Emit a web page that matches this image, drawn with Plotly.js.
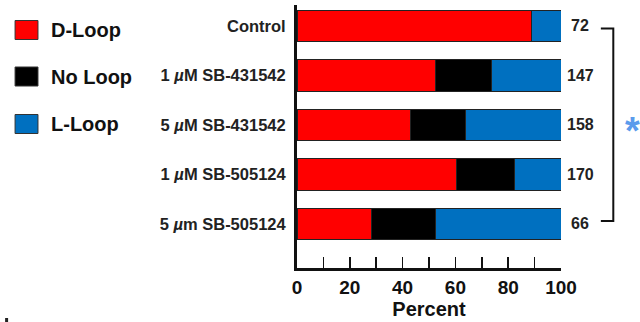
<!DOCTYPE html>
<html>
<head>
<meta charset="utf-8">
<script src="https://cdn.plot.ly/plotly-3.0.1.min.js"></script>
<style>html,body{margin:0;padding:0;background:#fff;}#chart{width:640px;height:322px;}</style>
</head>
<body>
<div id="chart"></div>
<script>
var categories = ["Control", "1 <i>µ</i>M SB-431542", "5 <i>µ</i>M SB-431542", "1 <i>µ</i>M SB-505124", "5 <i>µ</i>m SB-505124"];
var dLoop = [89, 52.5, 43, 60.6, 28.4];
var noLoop = [0, 21.1, 21, 21.8, 24.2];
var lLoop = [11, 26.4, 36, 17.6, 47.4];
var counts = ["72", "147", "158", "170", "66"];
var seriesNames = ["D-Loop", "No Loop", "L-Loop"];
var seriesColors = ["#ff0000", "#000000", "#0070c0"];
var xTicks = [0, 20, 40, 60, 80, 100];

var FONT = "Liberation Sans, Arial, Helvetica, sans-serif";
var series = [dLoop, noLoop, lLoop];
var traces = series.map(function(vals, i) {
  return {
    type: "bar", orientation: "h",
    x: vals, y: categories, name: seriesNames[i],
    marker: {color: seriesColors[i], line: {color: "#222222", width: 1}},
    showlegend: false, hoverinfo: "skip"
  };
});

var annotations = [];
var shapes = [];
counts.forEach(function(c, i) {
  annotations.push({x: 100, y: categories[i], xref: "x", yref: "y", text: "<b>" + c + "</b>",
    showarrow: false, xanchor: "center", xshift: 19,
    font: {family: FONT, size: 16, color: "#222222"}});
});
// custom legend
var legY = [30, 76.5, 124];
function px(x){return (x - 296) / 265;}
function py(y){return (268 - y) / 263;}
seriesNames.forEach(function(n, i) {
  var yc = legY[i];
  shapes.push({type: "rect", xref: "paper", yref: "paper",
    x0: px(13), x1: px(36), y0: py(yc - 9.5), y1: py(yc + 9.5),
    fillcolor: seriesColors[i], line: {color: "#333333", width: 1}});
  annotations.push({xref: "paper", yref: "paper", x: px(47), y: py(yc),
    xanchor: "left", yanchor: "middle", showarrow: false, text: "<b>" + n + "</b>",
    font: {family: FONT, size: 20, color: "#111111"}});
});
// bracket
shapes.push({type: "path", xref: "paper", yref: "paper",
  path: "M " + px(601) + " " + py(28.5) + " L " + px(613.5) + " " + py(28.5) + " L " + px(613.5) + " " + py(221) + " L " + px(601) + " " + py(221),
  line: {color: "#111111", width: 2}});
annotations.push({xref: "paper", yref: "paper", x: px(632.5), y: py(126), xanchor: "center", yanchor: "middle",
  showarrow: false, text: "<b>*</b>", yshift: -5,
  font: {family: FONT, size: 38, color: "#5b9bec"}});
// stray mark bottom-left
shapes.push({type: "rect", xref: "paper", yref: "paper", x0: px(3), x1: px(6), y0: py(322), y1: py(318),
  fillcolor: "#222222", line: {width: 0}});

var layout = {
  width: 640, height: 322,
  margin: {l: 297, r: 79, t: 5, b: 54, pad: 0},
  paper_bgcolor: "#ffffff", plot_bgcolor: "#ffffff",
  barmode: "stack", bargap: 0.354,
  xaxis: {range: [0, 100], tickvals: xTicks, ticktext: xTicks.map(String),
    ticks: "inside", ticklen: 11, tickwidth: 1.5, tickcolor: "#111111",
    minor: {dtick: 10, tick0: 0, ticks: "inside", ticklen: 11, tickwidth: 1.5, tickcolor: "#111111"},
    showline: true, linecolor: "#111111", linewidth: 3, showgrid: false, zeroline: false,
    tickfont: {family: FONT, size: 19, color: "#111111", weight: "bold"},
    title: {text: "<b>Percent</b>", font: {family: FONT, size: 20, color: "#111111"}, standoff: 5},
    fixedrange: true},
  yaxis: {type: "category", categoryorder: "array", categoryarray: categories,
    range: [4.889, -0.424], showline: true, linecolor: "#111111", linewidth: 3,
    showgrid: false, zeroline: false, ticks: "", ticklabelstandoff: 5,
    tickfont: {family: FONT, size: 16.5, color: "#222222", weight: "bold"},
    fixedrange: true},
  shapes: shapes,
  annotations: annotations
};
Plotly.newPlot("chart", traces, layout, {staticPlot: true, displayModeBar: false});
</script>
</body>
</html>
